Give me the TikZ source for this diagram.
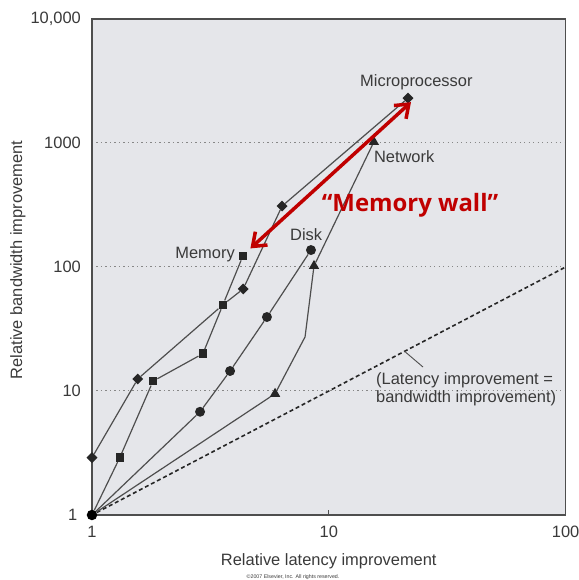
\documentclass[tikz,border=0pt]{standalone}
\usepackage{fontspec}
\setmainfont{Liberation Sans}
\newfontfamily\wallfont{Open Sans}
\usepackage{tikz}
\usetikzlibrary{arrows.meta, positioning, calc, shapes.geometric}
\definecolor{mybg}{RGB}{229, 230, 234}
\definecolor{myline}{RGB}{78, 78, 78}
\definecolor{mymark}{RGB}{38, 38, 38}
\definecolor{mytext}{RGB}{58, 58, 58}
\definecolor{mygrid}{RGB}{135, 135, 135}
\definecolor{myred}{RGB}{192, 0, 0}

\begin{document}
\begin{tikzpicture}[x=236.8bp, y=124bp,
    lbl/.style={inner sep=0, text=mytext, font=\fontsize{16.5}{18}\selectfont},
    series/.style={myline, line width=1.2bp},
    gridline/.style={mygrid, line width=1bp, dash pattern=on 1.2bp off 3.3bp},
    cpumark/.style={diamond, fill=mymark, inner sep=0, minimum width=11bp, minimum height=11bp},
    memmark/.style={rectangle, fill=mymark, inner sep=0, minimum size=8.5bp},
    diskmark/.style={circle, fill=mymark, inner sep=0, minimum size=10bp},
    netmark/.style={regular polygon, regular polygon sides=3, fill=mymark, inner sep=0, minimum size=12bp},
    memwall/.style={myred, line width=3.5bp, {Straight Barb[length=12bp, width=18bp]}-{Straight Barb[length=12bp, width=18bp]}}]
    \useasboundingbox (-0.3885,-0.5242) rectangle (2.0566,4.1532);

    % plot area
    \fill[mybg] (0,0) rectangle (2,4);
    \foreach \v in {1,2,3}
        \draw[gridline] (0,\v) -- (2,\v);
    \draw[myline, line width=1bp] (1,0) -- ++(0,5bp);
    \draw[myline, line width=1.4bp] (0,0) rectangle (2,4);

    % axis labels
    \node[lbl, anchor=east] (ytick0) at ([xshift=-14.5bp]0,0) {1};
    \foreach \v/\t in {1/10, 2/100, 3/1000, 4/{10,000}}
        \node[lbl, anchor=east] (ytick\v) at ([xshift=-11bp]0,\v) {\t};
    \foreach \v/\t in {0/1, 1/10, 2/100}
        \node[lbl, anchor=north] (xtick\v) at ([yshift=-11bp]\v,0) {\t};
    \node[lbl, anchor=base] (xtitle) at (1,-0.411) {Relative latency improvement};
    \node[lbl, anchor=base, rotate=90] (ytitle) at (-0.2956,2.056) {Relative bandwidth improvement};
    \node[inner sep=0, text=mytext, font=\fontsize{5.3}{6}\selectfont] (copy) at (0.849,-0.5) {\textcopyright 2007 Elsevier, Inc. All rights reserved.};

    % latency = bandwidth
    \node[circle, fill=black, inner sep=0, minimum size=10.5bp] (orig) at (0,0) {};
    \coordinate (eq100) at (2,2);
    \coordinate (eqmark) at (1.32,1.32);
    \draw[mymark, line width=1.6bp, dash pattern=on 4bp off 2.8bp] (orig) -- (eq100);
    \node[lbl, align=left, anchor=north west] (note) at (1.1993,1.153) {(Latency improvement =\\bandwidth improvement)};
    \draw[myline, line width=0.9bp] (eqmark) -- ([shift={(47bp,5bp)}]note.north west);

    % memory
    \node[memmark] (mem1) at ({log10(1.31)},{log10(2.9)}) {};
    \node[memmark] (mem2) at ({log10(1.81)},{log10(12)}) {};
    \node[memmark] (mem3) at ({log10(2.94)},{log10(20)}) {};
    \node[memmark] (mem4) at ({log10(3.57)},{log10(49.5)}) {};
    \node[memmark] (mem5) at ({log10(4.34)},{log10(123)}) {};
    \draw[series] (orig) -- (mem1) -- (mem2) -- (mem3) -- (mem4) -- (mem5);
    \node[lbl, anchor=base east] (memlbl) at ([shift={(-8bp,-3bp)}]mem5.center) {Memory};

    % microprocessor
    \node[cpumark] (cpu1) at (0,{log10(2.9)}) {};
    \node[cpumark] (cpu2) at ({log10(1.56)},{log10(12.5)}) {};
    \node[cpumark] (cpu4) at ({log10(4.35)},{log10(66.5)}) {};
    \node[cpumark] (cpu5) at ({log10(6.35)},{log10(310)}) {};
    \node[cpumark] (cpu6) at ({log10(21.6)},{log10(2300)}) {};
    \draw[series] (cpu1) -- (cpu2) -- (mem4) -- (cpu4) -- (cpu5) -- (cpu6);
    \node[lbl, anchor=base west] (cpulbl) at ([shift={(-48bp,12bp)}]cpu6.center) {Microprocessor};

    % disk
    \node[diskmark] (disk1) at ({log10(2.86)},{log10(6.8)}) {};
    \node[diskmark] (disk2) at ({log10(3.83)},{log10(14.5)}) {};
    \node[diskmark] (disk3) at ({log10(5.48)},{log10(39.5)}) {};
    \node[diskmark] (disk4) at ({log10(8.41)},{log10(137)}) {};
    \draw[series] (orig) -- (disk1) -- (disk2) -- (disk3) -- (disk4);
    \node[lbl, anchor=base west] (disklbl) at ([shift={(-21bp,10bp)}]disk4.center) {Disk};

    % network
    \node[netmark] (net1) at ({log10(5.93)},{log10(9.5)}) {};
    \coordinate (netbend) at ({log10(7.94)},{log10(27.3)});
    \node[netmark] (net2) at ({log10(8.66)},{log10(102)}) {};
    \node[netmark] (net3) at ({log10(15.5)},{log10(1020)}) {};
    \draw[series] (orig) -- (net1) -- (netbend) -- (net2) -- (net3);
    \node[lbl, anchor=base west] (netlbl) at ([shift={(0bp,-21bp)}]net3.center) {Network};

    % memory wall
    \draw[memwall] ([shift={(3bp,3bp)}]mem5.north east) -- ([shift={(3bp,-4bp)}]cpu6.center);
    \node[inner sep=0, text=myred, font=\wallfont\bfseries\fontsize{24}{26}\selectfont] (wall) at (1.343,2.5) {“Memory wall”};
\end{tikzpicture}
\end{document}
